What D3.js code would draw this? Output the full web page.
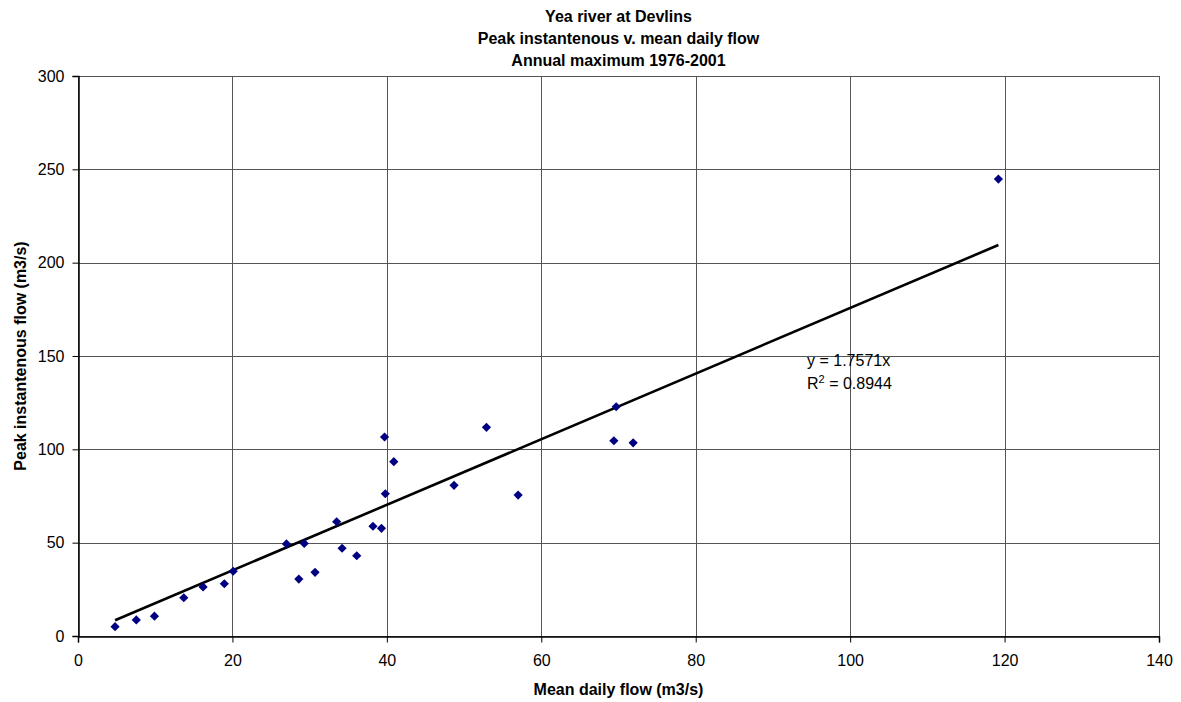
<!DOCTYPE html>
<html>
<head>
<meta charset="utf-8">
<script src="https://cdn.jsdelivr.net/npm/d3@7"></script>
<style>
  body { margin: 0; background: #fff; }
  text { font-family: "Liberation Sans", Arial, sans-serif; }
</style>
</head>
<body>
<div id="chart"></div>
<script>
// annual maxima
var meanFlow = [4.8, 7.55, 9.9, 13.7, 16.2, 18.95, 20.1, 27.0, 28.6, 29.3, 30.7, 33.5, 34.2,
                36.1, 38.2, 39.3, 39.7, 39.8, 40.9, 48.7, 52.9, 57.0, 69.4, 69.7, 71.9, 119.2];
var peakFlow = [5.0, 8.6, 10.6, 20.5, 26.3, 28.0, 34.7, 49.3, 30.5, 49.6, 34.1, 61.2, 47.0,
                43.0, 58.8, 57.7, 106.6, 76.2, 93.4, 80.7, 111.8, 75.5, 104.6, 122.8, 103.5, 244.8];
var slope = 1.7571;
var r2 = "0.8944";
var xTicks = [0, 20, 40, 60, 80, 100, 120, 140];
var yTicks = [0, 50, 100, 150, 200, 250, 300];
var titleLines = ["Yea river at Devlins", "Peak instantenous v. mean daily flow", "Annual maximum 1976-2001"];

var width = 1181, height = 702;
// plot area edges ("top" is taken by window.top)
var pL = 78, pR = 1159, pT = 76, pB = 636;
var fs = 16;

var svg = d3.select("#chart").append("svg")
    .attr("width", width)
    .attr("height", height);

var x = d3.scaleLinear().domain([0, 140]).range([pL, pR]);
var y = d3.scaleLinear().domain([0, 300]).range([pB, pT]);

// gridlines
svg.append("g").selectAll("line")
    .data(xTicks.slice(1, -1))
    .enter().append("line")
    .attr("x1", function(d) { return Math.round(x(d)) + 0.5; })
    .attr("x2", function(d) { return Math.round(x(d)) + 0.5; })
    .attr("y1", pT).attr("y2", pB)
    .attr("stroke", "#555").attr("stroke-width", 1);

svg.append("g").selectAll("line")
    .data(yTicks.slice(1, -1))
    .enter().append("line")
    .attr("y1", function(d) { return Math.round(y(d)) + 0.5; })
    .attr("y2", function(d) { return Math.round(y(d)) + 0.5; })
    .attr("x1", pL).attr("x2", pR)
    .attr("stroke", "#555").attr("stroke-width", 1);

// plot border
svg.append("rect")
    .attr("x", pL + 0.5).attr("y", pT + 0.5)
    .attr("width", pR - pL).attr("height", pB - pT)
    .attr("fill", "none").attr("stroke", "#555");

// axes
var xAxis = svg.append("g")
    .attr("transform", "translate(0," + (pB + 0.5) + ")")
    .call(d3.axisBottom(x).tickValues(xTicks).tickSize(6).tickPadding(12));
var yAxis = svg.append("g")
    .attr("transform", "translate(" + (pL + 0.5) + ",0)")
    .call(d3.axisLeft(y).tickValues(yTicks).tickSize(6).tickPadding(8));

[xAxis, yAxis].forEach(function(a) {
  a.select(".domain").attr("stroke", "#000").attr("stroke-width", 1.5);
  a.selectAll(".tick line").attr("stroke", "#000");
  a.selectAll("text")
      .attr("font-family", "'Liberation Sans', Arial, sans-serif")
      .attr("font-size", fs).attr("fill", "#000");
});

// trendline through origin, over the data range
var xMin = d3.min(meanFlow), xMax = d3.max(meanFlow);
svg.append("line")
    .attr("x1", x(xMin)).attr("y1", y(slope * xMin))
    .attr("x2", x(xMax)).attr("y2", y(slope * xMax))
    .attr("stroke", "#000").attr("stroke-width", 2.6);

// markers
var pts = meanFlow.map(function(d, i) { return [d, peakFlow[i]]; });
svg.append("g").selectAll("path")
    .data(pts)
    .enter().append("path")
    .attr("d", "M0,-4.6L4.6,0L0,4.6L-4.6,0Z")
    .attr("transform", function(d) { return "translate(" + x(d[0]) + "," + y(d[1]) + ")"; })
    .attr("fill", "#000080");

// equation label
var eq = svg.append("g").attr("font-size", fs).attr("fill", "#000");
eq.append("text").attr("x", 807).attr("y", 366).text("y = " + slope + "x");
var rt = eq.append("text").attr("x", 807).attr("y", 389);
rt.append("tspan").text("R");
rt.append("tspan").attr("dy", -6).attr("font-size", 11).text("2");
rt.append("tspan").attr("dy", 6).text(" = " + r2);

// title
svg.append("g").selectAll("text")
    .data(titleLines)
    .enter().append("text")
    .attr("x", (pL + pR) / 2)
    .attr("y", function(d, i) { return 22 + i * 22; })
    .attr("text-anchor", "middle")
    .attr("font-weight", "bold")
    .attr("font-size", fs)
    .text(function(d) { return d; });

// axis titles
svg.append("text")
    .attr("x", (pL + pR) / 2).attr("y", 695)
    .attr("text-anchor", "middle").attr("font-weight", "bold").attr("font-size", fs)
    .text("Mean daily flow (m3/s)");

svg.append("text")
    .attr("transform", "translate(26," + (pT + pB) / 2 + ") rotate(-90)")
    .attr("text-anchor", "middle").attr("font-weight", "bold").attr("font-size", fs)
    .text("Peak instantenous flow (m3/s)");
</script>
</body>
</html>
